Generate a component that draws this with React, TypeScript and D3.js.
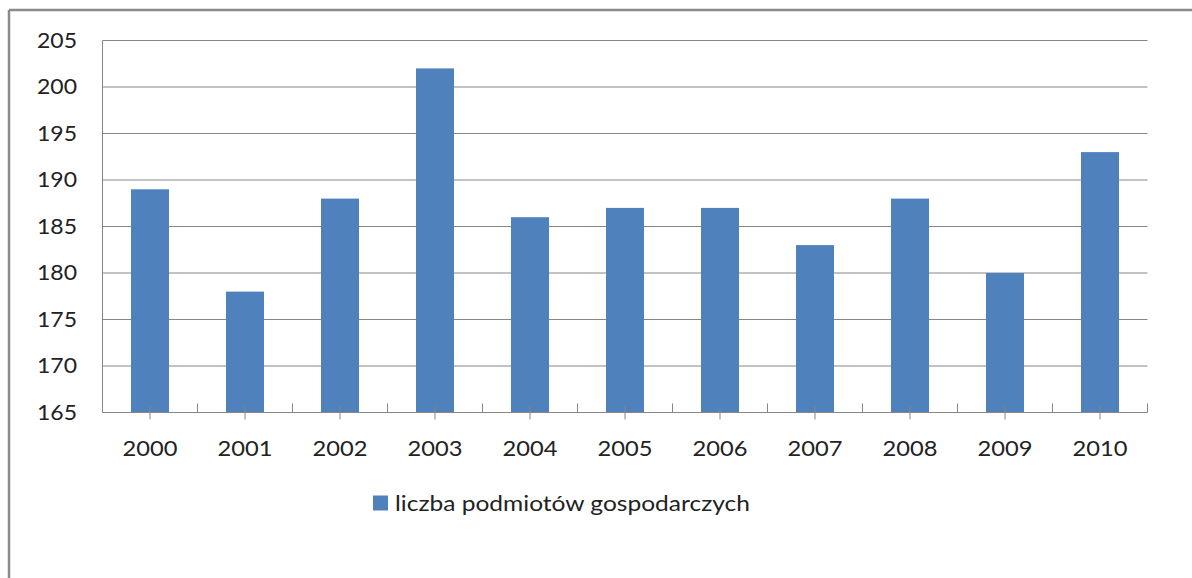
import React from "react";
import * as d3 from "d3";

const years = ["2000","2001","2002","2003","2004","2005","2006","2007","2008","2009","2010"];
const values = [189, 178, 188, 202, 186, 187, 187, 183, 188, 180, 193];
const yTicks = [165, 170, 175, 180, 185, 190, 195, 200, 205];
const seriesName = "liczba podmiotów gospodarczych";

export default function App() {
  const W = 1192, H = 578;
  const left = 102.5, right = 1147.5, top = 40.5, bottom = 412.5;
  const x = d3.scaleBand<string>().domain(years).range([left, right]).paddingInner(0.6).paddingOuter(0.3);
  const xb = d3.scaleBand<string>().domain(years).range([left, right]);
  const y = d3.scaleLinear().domain([165, 205]).range([bottom, top]);
  const font = "Lato, Carlito, 'Liberation Sans', sans-serif";
  const grid = "#868686";
  return (
    <svg width={W} height={H} style={{ position: "absolute", left: 0, top: 0 }}>
      <rect x={0} y={0} width={W} height={H} fill="#fff" />
      <line x1={9} y1={10} x2={W} y2={10} stroke="#8a8a8a" strokeWidth={2.5} />
      <line x1={9} y1={10} x2={9} y2={H} stroke="#8a8a8a" strokeWidth={2.5} />
      {yTicks.map((t) => (
        <g key={t}>
          {t !== 165 && <line x1={left} x2={right} y1={y(t)} y2={y(t)} stroke={grid} strokeWidth={1} />}
          <text x={77} y={y(t)} dy="0.35em" textAnchor="end" fontFamily={font} fontSize={21} fill="#222" textLength={40} lengthAdjust="spacingAndGlyphs">{t}</text>
        </g>
      ))}
      {years.map((yr, i) => (
        <rect key={yr} x={x(yr)} y={y(values[i])} width={x.bandwidth()} height={bottom - y(values[i])} fill="#4F81BD" />
      ))}
      <line x1={left} x2={left} y1={top} y2={bottom} stroke={grid} strokeWidth={1} />
      <line x1={left} x2={right} y1={bottom} y2={bottom} stroke={grid} strokeWidth={1} />
      {years.map((yr) => (
        <line key={"b" + yr} x1={xb(yr)! + xb.bandwidth()} x2={xb(yr)! + xb.bandwidth()} y1={bottom - 9} y2={bottom} stroke={grid} strokeWidth={1} />
      ))}
      {years.map((yr) => (
        <line key={"c" + yr} x1={xb(yr)! + xb.bandwidth() / 2} x2={xb(yr)! + xb.bandwidth() / 2} y1={bottom - 6} y2={bottom + 7} stroke={grid} strokeWidth={1} />
      ))}
      {years.map((yr) => (
        <text key={"t" + yr} x={xb(yr)! + xb.bandwidth() / 2} y={448} dy="0.35em" textAnchor="middle" fontFamily={font} fontSize={22} fill="#222" textLength={55} lengthAdjust="spacingAndGlyphs">{yr}</text>
      ))}
      <rect x={373} y={495.5} width={15} height={15} fill="#4F81BD" />
      <text x={395} y={503} dy="0.35em" fontFamily={font} fontSize={22} fill="#222" textLength={355} lengthAdjust="spacingAndGlyphs">{seriesName}</text>
    </svg>
  );
}
